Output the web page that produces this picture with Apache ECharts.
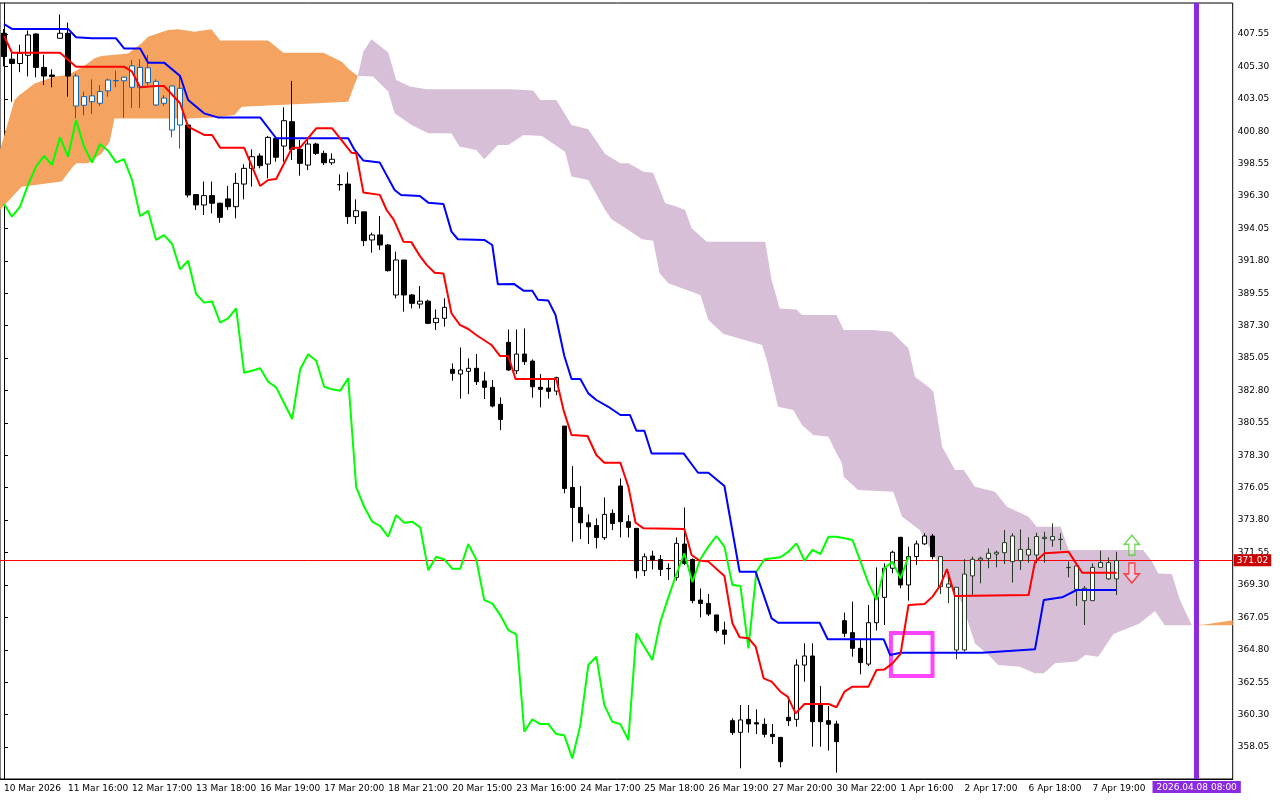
<!DOCTYPE html>
<html>
<head>
<meta charset="utf-8">
<script src="https://cdn.jsdelivr.net/npm/echarts@6/dist/echarts.min.js"></script>
<style>
  html, body { margin: 0; padding: 0; background: #fff; }
  #chart { width: 1280px; height: 800px; }
</style>
</head>
<body>
<div id="chart"></div>
<script>
// bar labels on the time axis (one every 8 bars)
var timeLabels = ["10 Mar 2026", "11 Mar 16:00", "12 Mar 17:00", "13 Mar 18:00", "16 Mar 19:00", "17 Mar 20:00",
  "18 Mar 21:00", "20 Mar 15:00", "23 Mar 16:00", "24 Mar 17:00", "25 Mar 18:00", "26 Mar 19:00",
  "27 Mar 20:00", "30 Mar 22:00", "1 Apr 16:00", "2 Apr 17:00", "6 Apr 18:00", "7 Apr 19:00"];
var priceTicks = [358.05, 360.30, 362.55, 364.80, 367.05, 369.30, 371.55, 373.80, 376.05, 378.30, 380.55, 382.80,
  385.05, 387.30, 389.55, 391.80, 394.05, 396.30, 398.55, 400.80, 403.05, 405.30, 407.55];
var barCount = 154;          // 140 price bars + cloud projected ahead
var lastPrice = 371.02;
var futureBar = 149;
var futureLabel = "2026.04.08 08:00";

// open, close, low, high
var candles = [
  [407.6,405.98,405.3,407.9],[405.8,405.5,402.85,406.4],[405.5,406.2,404.9,406.8],[406.07,407.48,404.6,407.8],
  [407.55,405.23,404.54,407.6],[405.23,404.63,404.0,406.1],[404.7,404.6,403.85,405.1],[407.25,407.6,407.25,408.9],
  [407.6,404.63,403.2,408.34],[404.63,402.55,401.7,404.8],[402.6,403.2,401.9,403.55],[403.25,402.85,402.0,404.4],
  [402.74,403.55,402.55,404.0],[403.6,404.35,403.2,404.45],[404.3,404.32,403.85,405.0],[404.3,404.55,401.74,404.6],
  [405.33,403.85,402.4,405.75],[403.85,405.23,402.4,405.8],[405.2,404.17,404.0,406.1],[404.26,402.62,402.55,404.4],
  [402.74,403.1,402.55,403.3],[400.88,403.94,400.37,404.0],[403.78,401.23,399.6,404.7],[401.23,396.37,396.2,401.23],
  [396.4,395.68,395.33,396.4],[395.68,396.33,394.98,397.3],[396.33,395.8,395.1,397.3],[395.8,394.82,394.45,395.84],
  [396.1,395.56,395.33,397.0],[395.56,397.18,394.75,397.9],[397.13,398.22,396.07,398.5],[398.22,399.03,396.95,399.54],
  [399.08,398.41,398.22,399.26],[398.52,400.37,397.53,400.47],[400.3,398.99,398.68,400.42],[399.77,401.53,398.68,402.46],
  [401.46,399.54,398.8,404.29],[399.54,398.57,397.71,400.19],[398.45,399.91,398.1,400.19],[399.91,399.26,399.15,400.0],
  [399.26,398.61,398.45,399.45],[398.61,398.85,398.45,399.26],[397.1,397.08,396.67,397.8],[397.13,394.87,394.36,397.95],
  [394.87,395.28,394.36,396.07],[395.2,393.2,392.83,395.2],[393.25,393.6,392.37,393.76],[393.6,392.9,392.55,394.91],
  [392.9,391.12,391.05,392.97],[389.43,391.86,389.2,392.44],[391.86,389.43,388.27,391.86],[389.43,388.85,388.5,389.5],
  [388.8,389.0,388.5,390.05],[389.0,387.46,387.4,389.1],[387.51,387.81,387.0,388.43],[387.81,388.57,387.23,389.2],
  [384.27,383.99,383.48,384.68],[383.94,384.22,382.23,385.79],[384.13,384.34,382.55,385.03],[384.34,383.41,383.18,385.33],
  [383.46,383.02,382.21,384.1],[383.02,381.72,381.63,383.53],[381.84,380.79,380.05,382.32],[386.14,384.22,384.17,387.04],
  [384.17,385.33,383.94,387.04],[385.33,384.8,384.57,387.11],[384.84,383.06,382.3,384.96],[383.02,382.88,381.63,383.94],
  [382.97,382.74,382.23,383.57],[382.76,383.69,382.48,383.76],[380.33,376.0,375.66,380.33],[376.07,374.68,372.3,377.55],
  [374.68,373.62,372.49,376.17],[373.62,373.34,372.14,374.2],[373.43,372.6,371.84,373.92],[372.58,374.2,372.42,375.38],
  [374.27,373.57,373.11,374.55],[376.17,373.69,372.6,376.7],[373.69,373.3,372.6,374.15],[373.23,370.29,369.76,373.23],
  [370.29,371.26,369.92,371.49],[371.31,371.03,370.38,371.67],[371.07,370.38,369.92,371.38],[370.45,370.43,369.64,370.8],
  [369.83,372.19,369.6,372.6],[372.14,370.8,370.68,374.68],[371.07,368.21,368.02,371.14],[368.25,368.02,367.05,369.06],
  [368.02,367.28,367.14,368.67],[367.22,366.13,365.99,367.22],[366.17,365.87,365.18,366.75],[359.88,359.05,358.88,360.04],
  [359.07,359.93,356.57,360.97],[359.97,359.65,359.05,360.97],[359.74,359.65,358.95,360.67],[359.63,358.93,358.72,360.04],
  [358.93,358.77,358.26,359.65],[358.72,357.03,356.64,358.72],[360.11,359.88,359.51,361.55],[359.97,363.74,359.46,364.14],
  [363.74,364.37,362.59,365.25],[364.37,359.81,358.07,365.25],[360.97,359.81,358.07,362.29],[359.88,359.63,357.8,360.9],
  [359.65,358.42,356.27,359.88],[366.82,365.94,365.67,367.38],[365.99,364.9,364.32,368.14],[364.9,363.91,363.1,365.48],
  [363.81,366.68,363.67,367.91],[366.68,368.44,366.13,370.52],[368.44,370.46,366.52,370.8],[370.46,371.57,370.11,371.68],
  [372.61,369.3,369.07,372.61],[369.3,371.27,368.21,371.96],[371.27,372.15,370.69,372.38],[372.15,372.7,372.08,372.89],
  [372.7,371.27,371.08,372.84],[371.27,369.18,368.67,371.27],[369.37,369.14,368.03,370.15],[369.14,364.79,364.14,369.14],
  [364.79,370.06,364.67,371.08],[369.93,371.08,368.6,371.27],[371.15,371.03,369.41,371.27],[371.15,371.5,370.46,371.84],
  [371.45,371.57,370.52,371.68],[371.54,372.24,370.76,373.12],[372.7,370.92,369.46,372.89],[370.99,371.77,370.34,373.16],
  [371.77,371.38,370.85,372.61],[371.38,372.66,370.8,372.93],[372.52,372.61,370.85,373.0],[372.66,372.42,371.96,373.58],
  [372.47,372.45,371.73,372.89],[370.52,370.5,369.83,370.92],[370.62,369.0,367.84,370.8],[369.07,368.21,366.52,369.23],
  [368.21,370.52,368.21,370.8],[370.52,370.85,370.52,371.68],[370.85,369.72,369.65,371.22],[369.72,370.99,368.6,371.61]
];
// bars drawn in other colours where they sit inside the cloud
var blueBars = [9, 22];
var darkBars = [117, 139];

// Tenkan-sen (red), [bar, price]
var tenkan = [[0,407.41],[1,406.25],[7,406.25],[9,405.28],[15,405.28],[16,404.93],[17,403.85],[19,403.94],[20,403.94],
  [22,402.74],[23,401.12],[25,400.54],[26,400.54],[27,399.66],[30,399.66],[32,397.0],[33,397.41],[34,397.48],[36,399.66],
  [37,399.66],[39,401.0],[41,401.0],[43.4,399.31],[44,399.27],[44.9,396.54],[46.95,396.38],[47.8,395.33],[48.7,394.64],
  [49.9,393.13],[50.9,393.1],[51.95,392.14],[52.8,391.52],[53.8,390.98],[54.9,390.93],[55.9,388.16],[56.95,387.35],
  [58,387.07],[59,386.65],[60.9,385.96],[61.95,385.2],[63,385.2],[63.9,383.6],[69,383.6],[69.9,381.44],[70.9,379.71],
  [72.9,379.64],[74,378.32],[75,377.79],[77,377.79],[78,376.12],[78.9,373.62],[79.9,373.23],[85,373.18],[85.9,371.38],
  [86.9,370.99],[88,370.92],[90,369.92],[91,366.64],[91.9,365.67],[93,365.6],[93.9,365.02],[94.9,362.82],[95.9,362.59],
  [97,361.89],[97.9,361.55],[98.9,360.39],[100,361.04],[103,361.04],[104,360.81],[105,361.89],[106,362.24],[108,362.24],
  [109,363.4],[110,363.44],[111,363.86],[112,364.51],[113,367.91],[115,367.98],[116,368.49],[117,369.3],[117.8,370.4],
  [118.8,368.53],[128,368.6],[128.8,370.9],[130,371.5],[133,371.6],[134.7,370.15],[139,370.15]];
// Kijun-sen (blue)
var kijun = [[0,408.24],[1,407.9],[8,407.9],[9,407.32],[11,407.25],[14,407.25],[15,406.55],[17,406.55],[18,405.56],
  [20,405.56],[22,404.63],[23,402.97],[25,402.04],[26.7,401.76],[32,401.76],[34,400.31],[43,400.31],[43.8,399.5],
  [44.9,398.76],[46.95,398.62],[48.8,396.72],[49.6,396.37],[51.95,396.3],[53,395.84],[54.9,395.75],[55.9,393.83],
  [56.7,393.3],[60,393.25],[61,392.9],[61.7,390.17],[63.7,390.2],[64.9,389.73],[66,389.73],[66.7,389.1],[68,389.04],
  [68.9,388.04],[70,385.2],[70.9,383.6],[72,383.6],[73,382.6],[74,382.14],[75.5,381.67],[77,381.1],[78.2,381.1],
  [79,380.01],[80,380.01],[80.9,378.43],[84.9,378.43],[86.7,377.09],[88,377.09],[90,376.17],[91.9,370.22],[93.9,370.22],
  [95.9,366.98],[96.7,366.68],[101.9,366.68],[102.9,365.53],[109.9,365.53],[110.7,364.44],[112,364.6],[122.2,364.6],
  [128.8,364.83],[129.9,368.26],[132.2,368.44],[134,368.95],[139,368.95]];
// Chikou span (green), one value per bar from bar 0
var chikou = [395.75,394.87,395.56,397.07,398.34,399.08,398.46,400.37,399.03,401.58,399.73,398.62,399.91,399.45,398.64,
  398.85,397.41,394.91,395.28,393.25,393.59,392.97,391.21,391.81,389.5,388.9,388.97,387.51,387.81,388.5,384.03,384.17,
  384.34,383.41,383.02,381.91,380.82,384.27,385.31,384.87,383.06,382.88,382.79,383.64,376.07,374.73,373.69,373.39,372.65,
  374.15,373.62,373.69,373.3,370.33,371.26,371.07,370.43,370.43,372.14,371.07,368.25,368.02,367.21,366.17,365.87,359.11,
  359.97,359.64,359.64,358.95,358.86,357.26,359.57,363.74,364.32,360.96,359.8,359.64,358.53,365.94,365.01,364.09,366.75,
  368.44,370.06,371.49,369.5,371.1,371.96,372.7,371.96,369.3,369.23,364.9,370.22,371.08,371.15,371.22,371.61,372.19,
  370.99,371.73,371.45,372.65,372.65,372.54,372.42,370.92,369.41,368.26,370.46,370.92,369.76,371.27];

// cloud edges
var bullCloudTop = [[-0.5,399.5],[1.33,402.97],[1.95,403.31],[3.83,404.12],[6.33,404.59],[8,404.7],[9.87,405.28],
  [11.33,405.86],[12.17,406.02],[15.5,406.2],[17.2,406.9],[18,407.36],[20.5,407.83],[21.75,407.87],[23.8,407.71],
  [25.9,407.87],[27,407.09],[33,407.09],[34.9,406.25],[39.9,406.25],[42.2,405.63],[43.2,405.05],[44.2,404.63]];
var bullCloudBottom = [[-0.5,395.33],[2.2,396.95],[7.2,397.3],[8.6,398.34],[9.05,398.57],[10.5,398.57],[12.2,399.26],
  [13.2,400.07],[13.8,401.69],[23,401.69],[26.3,401.76],[28.8,401.93],[29.7,402.5],[43,402.85],[44.2,404.63]];
var bearCloudTop = [[44.2,404.63],[44.9,406.33],[45.9,407.18],[48,406.26],[49,404.36],[50.7,403.9],[52.8,403.71],
  [63.4,403.71],[66.1,403.62],[67,402.97],[69,402.97],[70.9,401.23],[73,400.93],[75.1,399.22],[77,398.57],[78,398.57],
  [79.9,397.99],[81.1,397.92],[82.6,395.8],[83.8,395.61],[85.1,395.33],[85.9,394.06],[87.8,393.13],[95.1,393.13],
  [95.9,390.47],[96.9,388.5],[99,388.43],[99.7,388.04],[104,388.04],[104.9,387.0],[108.4,387.0],[110.9,386.88],
  [113,385.72],[113.8,383.76],[115.7,382.95],[116.1,382.71],[117.2,378.9],[118.8,377.28],[119.9,377.28],[121.3,376.12],
  [123.8,375.77],[125.3,374.73],[128,374.04],[129,373.34],[132,373.34],[133,371.72],[142.3,371.72],[143.4,370.95],
  [144.2,370.1],[145.9,370.06],[146.9,368.25],[148.4,366.51]];
var bearCloudBottom = [[44.2,404.63],[46.1,404.59],[48,403.55],[48.8,402.04],[50.9,401.23],[53,400.66],[55.9,400.66],
  [56.9,399.73],[59,399.5],[60,398.85],[61.7,399.85],[63,399.85],[64.9,400.54],[67.2,400.47],[70.1,399.38],[70.9,397.65],
  [73,397.42],[75.1,395.33],[75.9,394.68],[78,393.94],[79.7,393.3],[81.1,393.2],[81.9,390.94],[83,390.24],[87,389.43],
  [88,387.69],[89.9,386.72],[94.7,385.95],[95.3,384.91],[96.7,381.67],[98.6,381.44],[99.7,380.4],[101.1,379.71],
  [103,379.59],[103.6,378.9],[104.7,377.74],[104.9,376.81],[106.7,375.89],[111.1,375.77],[112.2,374.04],[114.4,373.11],
  [117.2,370.33],[119.7,368.02],[121.3,365.24],[123,364.43],[124.2,363.74],[126.9,363.63],[128.8,363.17],[129.9,363.17],
  [131.3,363.86],[134,363.98],[135.1,364.44],[136.7,364.32],[138.6,365.9],[141.8,366.6],[143.8,367.5],[145,366.5],
  [148.4,366.51]];
var tailCloudTop = [[148.4,366.51],[150,366.55],[153.5,366.85]];
var tailCloudBottom = [[148.4,366.51],[153.5,366.51]];

// highlighted box and signal arrows
var highlightBox = [[110.8, 365.96], [116.0, 362.98]];
var upArrow = [140.9, 372.07];
var downArrow = [140.9, 370.13];

var font = "DejaVu Sans";

var candleData = [];
for (var i = 0; i < candles.length; i++) {
  var c = candles[i];
  var item = { value: c };
  if (i >= blueBars[0] && i <= blueBars[1]) {
    item.itemStyle = { color: "#ffffff", color0: "#1565b0", borderColor: "#1565b0", borderColor0: "#1565b0" };
  } else if (i >= darkBars[0] && i <= darkBars[1]) {
    item.itemStyle = { color: "#ffffff", color0: "#263a26", borderColor: "#263a26", borderColor0: "#263a26" };
  }
  candleData.push(item);
}
var categories = [];
for (var k = 0; k < barCount; k++) categories.push(String(k));
var chikouData = chikou.map(function (v, idx) { return [idx, v]; });

function cloud(top, bottom, color) {
  return {
    type: "custom", xAxisIndex: 1, yAxisIndex: 0, z: 1, silent: true,
    data: [[0, 0]],
    renderItem: function (params, api) {
      var pts = top.map(function (p) { return api.coord(p); })
        .concat(bottom.slice().reverse().map(function (p) { return api.coord(p); }));
      return { type: "polygon", shape: { points: pts }, style: { fill: color } };
    }
  };
}
function line(data, color) {
  return {
    type: "line", xAxisIndex: 1, yAxisIndex: 0, data: data, showSymbol: false, z: 4,
    lineStyle: { color: color, width: 2 }, animation: false
  };
}
function arrowPath(up) {
  return up ? "path://M5,0 L10,6 L7,6 L7,13 L3,13 L3,6 L0,6 Z" : "path://M3,0 L7,0 L7,7 L10,7 L5,13 L0,7 L3,7 Z";
}

var chart = echarts.init(document.getElementById("chart"));
chart.setOption({
  animation: false,
  backgroundColor: "#ffffff",
  grid: { left: -1.3, right: 47.3, top: 3, bottom: 21, show: true, borderColor: "#000", borderWidth: 1 },
  xAxis: [{
    type: "category", data: categories, boundaryGap: true,
    axisLine: { lineStyle: { color: "#000" } },
    axisTick: { lineStyle: { color: "#000" }, length: 4,
      interval: function (idx) { return idx % 8 === 0 && idx / 8 < timeLabels.length; } },
    axisLabel: { color: "#000", fontFamily: font, fontSize: 9, align: "left", margin: 5,
      interval: function (idx) { return idx % 8 === 0 && idx / 8 < timeLabels.length; },
      formatter: function (v, idx) { return timeLabels[idx / 8] || ""; } },
    splitLine: { show: false }
  }, {
    type: "value", min: -0.5, max: barCount - 0.5, show: false
  }],
  yAxis: {
    type: "value", position: "right", min: 355.83, max: 409.70, scale: true,
    axisLine: { show: true, lineStyle: { color: "#000" } },
    axisTick: { show: true, length: 4, customValues: priceTicks, lineStyle: { color: "#000" } },
    axisLabel: { color: "#000", fontFamily: font, fontSize: 9, margin: 5, customValues: priceTicks,
      formatter: function (v) { return v.toFixed(2); } },
    splitLine: { show: false }
  },
  series: [
    cloud(bullCloudTop, bullCloudBottom, "#f4a460"),
    cloud(bearCloudTop, bearCloudBottom, "#d8bfd8"),
    cloud(tailCloudTop, tailCloudBottom, "#f4a460"),
    {
      type: "candlestick", xAxisIndex: 0, yAxisIndex: 0, data: candleData, barWidth: 5, z: 3,
      itemStyle: { color: "#ffffff", color0: "#000000", borderColor: "#000000", borderColor0: "#000000", borderWidth: 1 }
    },
    line(chikouData, "#00ff00"),
    line(kijun, "#0000ff"),
    Object.assign(line(tenkan, "#ff0000"), {
      markLine: {
        silent: true, symbol: "none", z: 2,
        data: [{ yAxis: lastPrice, lineStyle: { color: "#ff0000", width: 1, type: "solid" },
          label: { show: true, position: "end", distance: 1, formatter: lastPrice.toFixed(2), color: "#fff",
            backgroundColor: "#cc0000", padding: [2, 3, 1, 3], fontFamily: font, fontSize: 9 } },
          { xAxis: futureBar, lineStyle: { color: "#8a2be2", width: 5, type: "solid" },
            label: { show: true, position: "start", distance: 2, formatter: futureLabel, color: "#fff",
              backgroundColor: "#8a2be2", padding: [2, 4, 1, 4], fontFamily: font, fontSize: 9 } }]
      },
      markArea: {
        silent: true,
        itemStyle: { color: "rgba(0,0,0,0)", borderColor: "#ff44ff", borderWidth: 4 },
        data: [[{ coord: highlightBox[0] }, { coord: highlightBox[1] }]]
      }
    }),
    {
      type: "scatter", xAxisIndex: 1, yAxisIndex: 0, z: 6, silent: true,
      data: [
        { value: upArrow, symbol: arrowPath(true),
          itemStyle: { color: "rgba(255,255,255,0.4)", borderColor: "#55cc33", borderWidth: 1.5 } },
        { value: downArrow, symbol: arrowPath(false),
          itemStyle: { color: "rgba(255,255,255,0.4)", borderColor: "#ff2222", borderWidth: 1.5 } }
      ],
      symbolSize: [15, 20]
    }
  ]
});
</script>
</body>
</html>
